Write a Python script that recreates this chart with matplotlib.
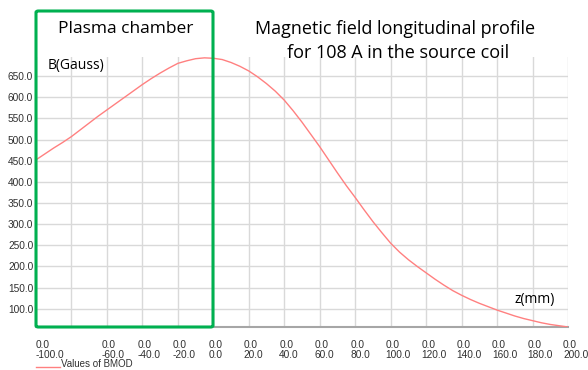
import matplotlib
matplotlib.use("Agg")
import matplotlib.pyplot as plt
import matplotlib.transforms as mtransforms
from matplotlib.patches import FancyBboxPatch

# field profile (z in mm, B in Gauss)
z_mm = [-100, -95, -90, -85, -80, -75, -70, -65, -60, -55, -50, -45, -40, -35,
        -30, -25, -20, -15, -10, -5, 0, 5, 10, 15, 20, 25, 30, 35, 40, 45,
        50, 55, 60, 65, 70, 75, 80, 85, 90, 95, 100, 105, 110, 115, 120, 125,
        130, 135, 140, 145, 150, 155, 160, 165, 170, 175, 180, 185, 190, 195, 200]
b_gauss = [452, 466, 480, 493, 507, 523, 539, 555, 570, 585, 600, 615, 630, 644,
           657, 669, 680, 686, 691, 693, 692, 689, 682, 673, 662, 648, 632, 614, 593, 568,
           541, 512, 483, 452, 421, 391, 363, 334, 306, 280, 255, 234, 216, 200, 185, 170,
           156, 143, 132, 122, 113, 105, 97, 90, 83, 77, 72, 67, 63, 60, 57]

x_ticks = [-100, -80, -60, -40, -20, 0, 20, 40, 60, 80, 100, 120, 140, 160, 180, 200]
x_labels = ["0.0\n-100.0", "", "0.0\n-60.0", "0.0\n-40.0", "0.0\n-20.0", "0.0\n0.0",
            "0.0\n20.0", "0.0\n40.0", "0.0\n60.0", "0.0\n80.0", "0.0\n100.0",
            "0.0\n120.0", "0.0\n140.0", "0.0\n160.0", "0.0\n180.0", "0.0\n200.0"]
y_ticks = [100, 150, 200, 250, 300, 350, 400, 450, 500, 550, 600, 650]

W, H = 588, 370
fig = plt.figure(figsize=(W / 100, H / 100), dpi=100)
ax = fig.add_axes([36 / W, 1 - 327 / H, (568 - 36) / W, (327 - 57) / H])

ax.plot(z_mm, b_gauss, color="#ff8080", lw=1.0, zorder=3)
ax.set_xlim(-100, 200)
ax.set_ylim(57, 695)

ax.set_xticks(x_ticks)
ax.set_xticklabels(x_labels, fontsize=7.3, family="Liberation Sans", ha="left",
                   linespacing=1.05, color="#303030")
ax.set_yticks(y_ticks)
ax.set_yticklabels(["%.1f" % v for v in y_ticks], fontsize=7.3, family="Liberation Sans",
                   color="#303030")
ax.tick_params(length=0, pad=2)
ax.tick_params(axis="x", pad=9)
# labels sit a little left of their grid line, except the first one
offset = mtransforms.ScaledTranslation(-5 / 100, 0, fig.dpi_scale_trans)
for lbl in ax.get_xticklabels()[1:]:
    lbl.set_transform(lbl.get_transform() + offset)

ax.grid(True, color="#d9d9d9", lw=1.0)
ax.set_axisbelow(True)
for s in ["top", "right", "left"]:
    ax.spines[s].set_visible(False)
ax.spines["bottom"].set_color("#a6a6a6")
ax.spines["bottom"].set_linewidth(1.5)

# legend entry at bottom
fig.add_artist(plt.Line2D([36 / W, 60 / W], [1 - 367 / H, 1 - 367 / H],
                          color="#ff8080", lw=1.0))
fig.text(61 / W, 1 - 364 / H, "Values of BMOD", fontsize=7, family="Liberation Sans",
         va="center", ha="left", color="#303030")

# green box marking the plasma chamber
box = FancyBboxPatch((36 / W, 1 - 327 / H), (213 - 36) / W, (327 - 11) / H,
                     boxstyle="round,pad=0,rounding_size=0.004",
                     transform=fig.transFigure, fill=False,
                     edgecolor="#00b050", lw=2.2, zorder=5)
fig.add_artist(box)

fig.text(126 / W, 1 - 29 / H, "Plasma chamber", fontsize=12.5, family="Open Sans",
         ha="center", va="center", color="black")
fig.text(395 / W, 1 - 29 / H, "Magnetic field longitudinal profile",
         fontsize=13, family="Open Sans", ha="center", va="center", color="black")
fig.text(398 / W, 1 - 53 / H, "for 108 A in the source coil",
         fontsize=13, family="Open Sans", ha="center", va="center", color="black")
fig.text(48 / W, 1 - 65 / H, "B(Gauss)", fontsize=10, family="Open Sans",
         ha="left", va="center", color="black")
fig.text(535 / W, 1 - 300 / H, "z(mm)", fontsize=10, family="Open Sans",
         ha="center", va="center", color="black")

fig.savefig("out.png", dpi=100)
